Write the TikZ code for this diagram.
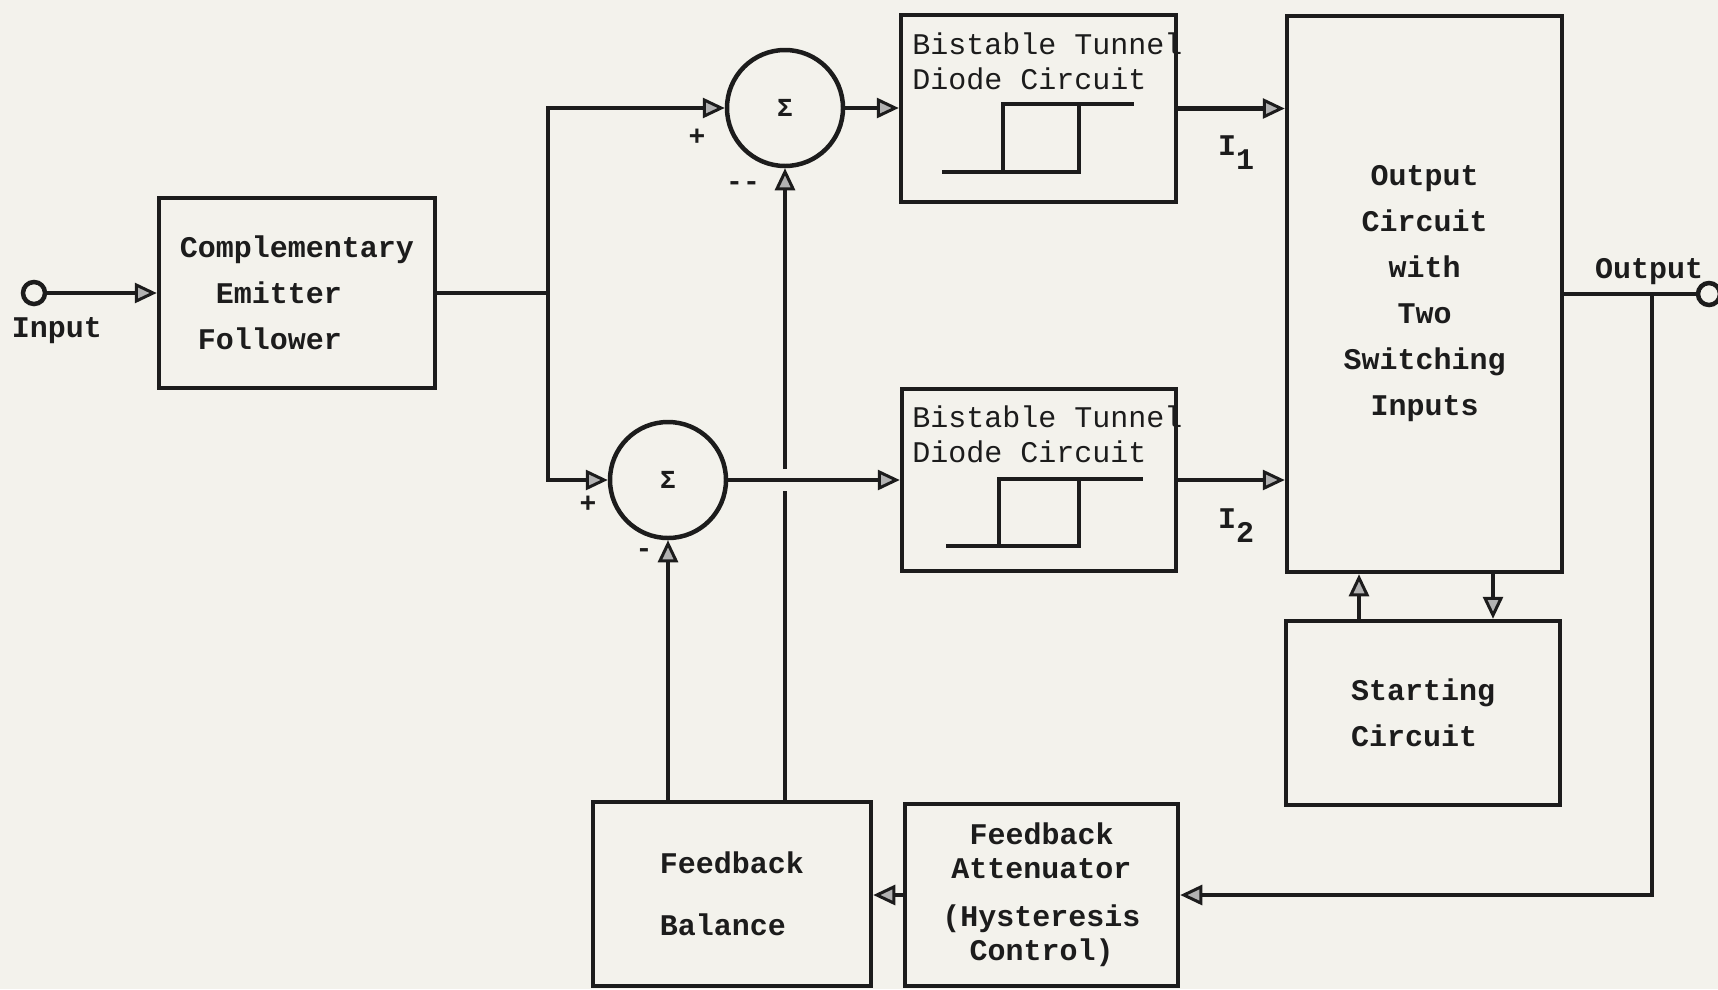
\documentclass[tikz,border=0pt]{standalone}
\usepackage{fontspec}
\newfontfamily\tw{Liberation Mono}
\usetikzlibrary{arrows.meta}
\definecolor{paper}{RGB}{243,242,236}
\definecolor{ink}{RGB}{28,28,28}
\newcommand\bt{\tw\bfseries\fontsize{30}{46}\selectfont}
\newcommand\btc{\tw\bfseries\fontsize{30}{34}\selectfont}
\newcommand\rt{\tw\fontsize{30}{35}\selectfont}
\begin{document}
\begin{tikzpicture}[x=1pt,y=-1pt,line width=4.5pt,draw=ink,text=ink,
  >={Triangle[length=22pt,width=20pt,line width=3pt,fill=gray!60]},
  box/.style={draw=ink,rectangle,line width=4.5pt,inner sep=0pt},
  sumnode/.style={draw=ink,circle,line width=4.5pt,inner sep=0pt,minimum size=116pt,font=\tw\bfseries\fontsize{26}{26}\selectfont},
  term/.style={draw=ink,circle,line width=4.5pt,inner sep=0pt,minimum size=22pt,fill=paper},
  sign/.style={font=\tw\bfseries\fontsize{28}{28}\selectfont,inner sep=0pt},
  hyst/.style={line width=4pt}]
\fill[paper] (0,0) rectangle (1718,989);
\useasboundingbox (0,0) rectangle (1718,989);

% input
\node[term] (in) at (34,293) {};
\node[font=\bt] (inl) at (57,331) {Input};
\node[box,minimum width=276pt,minimum height=190pt,align=left,font=\bt] (cef) at (297,293)
  {Complementary\\\hphantom{XX}Emitter\\\hphantom{X}Follower};

% summing junctions
\node[sumnode] (sum1) at (785,108) {Σ};
\node[sumnode] (sum2) at (668,480) {Σ};
\node[sign] (p1) at (697,137) {+};
\node[sign] (m1) at (743,186) {-{}-};
\node[sign] (p2) at (588,504) {+};
\node[sign] (m2) at (644,553) {-};

% bistable tunnel diode circuits
\node[font=\rt,align=left,anchor=west,inner sep=0pt] (t1) at (910,61.5) {Bistable Tunnel\\Diode Circuit};
\node[box,minimum width=275pt,minimum height=187pt] (btd1) at (1038.5,108.5) {};
\draw[hyst] (942,172) -- (1079,172) -- (1079,104);
\draw[hyst] (1003,172) -- (1003,104) -- (1134,104);

\node[font=\rt,align=left,anchor=west,inner sep=0pt] (t2) at (910,434.5) {Bistable Tunnel\\Diode Circuit};
\node[box,minimum width=274pt,minimum height=182pt] (btd2) at (1039,480) {};
\draw[hyst] (946,546) -- (1079,546) -- (1079,479);
\draw[hyst] (999,546) -- (999,479) -- (1143,479);

% output circuit
\node[box,minimum width=275pt,minimum height=556pt,align=center,font=\bt] (out) at (1424.5,294)
  {Output\\Circuit\\with\\Two\\Switching\\Inputs};
\node[box,minimum width=274pt,minimum height=184pt,align=left,font=\bt] (start) at (1423,713)
  {Starting\\Circuit};
\node[font=\bt] (i1) at (1236,153) {I\raisebox{-14pt}{1}};
\node[font=\bt] (i2) at (1236,526) {I\raisebox{-14pt}{2}};
\node[term] (oc) at (1709,294) {};
\node[font=\bt] (outl) at (1649,272) {Output};

% feedback
\node[box,minimum width=278pt,minimum height=184pt,align=left,font=\bt] (fb) at (732,894)
  {Feedback\\[16pt]Balance};
\node[box,minimum width=273pt,minimum height=182pt,align=center,font=\btc] (fa) at (1041.5,895)
  {Feedback\\Attenuator\\[14pt](Hysteresis\\Control)};

% connectors
\coordinate (j) at (548,293);
\coordinate (tap) at (1652,294);
\coordinate (g1) at (785,491);
\coordinate (g2) at (785,469);
\coordinate (su) at (1359,0);
\coordinate (sd) at (1493,0);

\draw[->] (in) -- (cef.west);
\draw (cef.east) -- (j);
\draw[->] (j) |- (sum1.west);
\draw[->] (j) |- (sum2.west);
\draw[->] (sum1.east) -- (btd1.west |- sum1.east);
\draw[->] (sum2.east) -- (btd2.west |- sum2.east);
\draw[->] (btd1.east) -- (out.west |- btd1.east);
\draw[->] (btd2.east) -- (out.west |- btd2.east);
\draw (out.east) -- (oc);
\draw[->] (tap) |- (fa.east);
\draw[->] (fa.west) -- (fb.east |- fa.west);
\draw[->] (fb.north -| sum2.south) -- (sum2.south);
\draw (fb.north -| sum1.south) -- (g1);
\draw[->] (g2) -- (sum1.south);
\draw[->] (start.north -| su) -- (out.south -| su);
\draw[->] (out.south -| sd) -- (start.north -| sd);
\end{tikzpicture}
\end{document}
